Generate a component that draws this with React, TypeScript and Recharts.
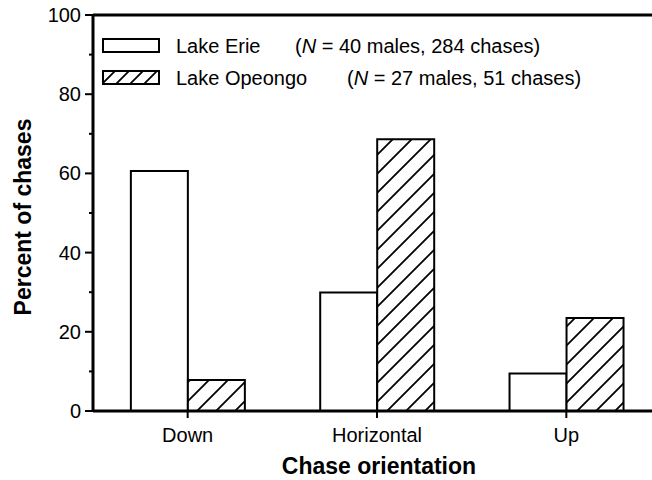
import React from 'react';
import { BarChart, Bar, XAxis, YAxis, Legend, ReferenceLine } from 'recharts';

const FONT = '"Liberation Sans", Arial, Helvetica, sans-serif';

const categories = ['Down', 'Horizontal', 'Up'];
const erieValues = [60.6, 29.9, 9.5];
const opeongoValues = [7.8, 68.6, 23.5];
const yTicks = [0, 10, 20, 30, 40, 50, 60, 70, 80, 90, 100];
const seriesNames = ['Lake Erie', 'Lake Opeongo'];
const sampleMales = [40, 27];
const sampleChases = [284, 51];

const data = categories.map((name, i) => ({
  name,
  erie: erieValues[i],
  opeongo: opeongoValues[i],
}));

const YTick = (props: any) => {
  const { x, y, payload } = props;
  const major = payload.value % 20 === 0;
  return (
    <g>
      <line x1={x - (major ? 8 : 4)} x2={x} y1={y} y2={y} stroke="#000" strokeWidth={2} />
      {major && (
        <text x={x - 12} y={y + 7} textAnchor="end" fontSize={20} fontFamily={FONT} fill="#000">
          {payload.value}
        </text>
      )}
    </g>
  );
};

const XTick = (props: any) => {
  const { x, y, payload } = props;
  return (
    <g>
      <line x1={x} x2={x} y1={y} y2={y + 7} stroke="#000" strokeWidth={2} />
      <text x={x} y={y + 31} textAnchor="middle" fontSize={20} fontFamily={FONT} fill="#000">
        {payload.value}
      </text>
    </g>
  );
};

const XTitle = (props: any) => {
  const { viewBox } = props;
  return (
    <text
      x={viewBox.x + viewBox.width / 2 + 2}
      y={viewBox.y + 63}
      textAnchor="middle"
      fontSize={23}
      fontWeight="bold"
      fontFamily={FONT}
      fill="#000"
    >
      Chase orientation
    </text>
  );
};

const YTitle = (props: any) => {
  const { viewBox } = props;
  const cx = viewBox.x - 2;
  const cy = viewBox.y + viewBox.height / 2 + 4;
  return (
    <text
      x={cx}
      y={cy}
      transform={`rotate(-90 ${cx} ${cy})`}
      textAnchor="middle"
      fontSize={23}
      fontWeight="bold"
      fontFamily={FONT}
      fill="#000"
    >
      Percent of chases
    </text>
  );
};

const Swatch = ({ hatched }: { hatched: boolean }) => (
  <svg width={58} height={15} style={{ position: 'absolute', left: 0, top: 0 }}>
    <defs>
      <pattern id="hatchLegend" patternUnits="userSpaceOnUse" width={14} height={14}>
        <rect width={14} height={14} fill="#fff" />
        <path d="M-1,1 l2,-2 M0,14 l14,-14 M13,15 l2,-2" stroke="#000" strokeWidth={1.8} />
      </pattern>
    </defs>
    <rect x={1} y={1} width={56} height={13} fill={hatched ? 'url(#hatchLegend)' : '#fff'} stroke="#000" strokeWidth={2} />
  </svg>
);

const LegendContent = () => {
  const rows = [
    { top: 38, noteLeft: 295 },
    { top: 70, noteLeft: 347 },
  ];
  return (
    <div style={{ position: 'relative', width: 652, height: 100, fontFamily: FONT, fontSize: 20, color: '#000', lineHeight: '20px' }}>
      {seriesNames.map((name, i) => (
        <div key={name}>
          <div style={{ position: 'absolute', left: 102, top: rows[i].top }}>
            <Swatch hatched={i === 1} />
          </div>
          <span style={{ position: 'absolute', left: 176, top: rows[i].top - 2, whiteSpace: 'nowrap' }}>{name}</span>
          <span style={{ position: 'absolute', left: rows[i].noteLeft, top: rows[i].top - 2, whiteSpace: 'nowrap' }}>
            (<i>N</i> = {sampleMales[i]} males, {sampleChases[i]} chases)
          </span>
        </div>
      ))}
    </div>
  );
};

export default function App() {
  return (
    <div style={{ position: 'absolute', left: 0, top: 0, width: 652, height: 480, overflow: 'hidden', background: '#fff', fontFamily: FONT }}>
      <BarChart
        width={662}
        height={480}
        data={data}
        margin={{ top: 15, right: 1, bottom: 0, left: 33 }}
        barCategoryGap="20%"
        barGap={0}
      >
        <defs>
          <pattern id="hatch" patternUnits="userSpaceOnUse" width={19} height={19}>
            <rect width={19} height={19} fill="#fff" />
            <path d="M-1,1 l2,-2 M0,19 l19,-19 M18,20 l2,-2" stroke="#000" strokeWidth={1.8} />
          </pattern>
        </defs>
        <Legend
          verticalAlign="middle"
          align="center"
          wrapperStyle={{ left: 0, top: 0, width: 652, height: 100 }}
          content={<LegendContent />}
        />
        <Bar dataKey="erie" name={seriesNames[0]} fill="#fff" stroke="#000" strokeWidth={2} isAnimationActive={false} />
        <Bar dataKey="opeongo" name={seriesNames[1]} fill="url(#hatch)" stroke="#000" strokeWidth={2} isAnimationActive={false} />
        <ReferenceLine y={100} stroke="#000" strokeWidth={3} />
        <XAxis
          dataKey="name"
          height={69}
          tickSize={0}
          tickMargin={0}
          tickLine={false}
          axisLine={{ stroke: '#000', strokeWidth: 3 }}
          tick={<XTick />}
          interval={0}
          label={<XTitle />}
        />
        <YAxis
          width={60}
          domain={[0, 100]}
          ticks={yTicks}
          interval={0}
          tickSize={0}
          tickMargin={0}
          tickLine={false}
          axisLine={{ stroke: '#000', strokeWidth: 3 }}
          tick={<YTick />}
          label={<YTitle />}
        />
      </BarChart>
    </div>
  );
}
